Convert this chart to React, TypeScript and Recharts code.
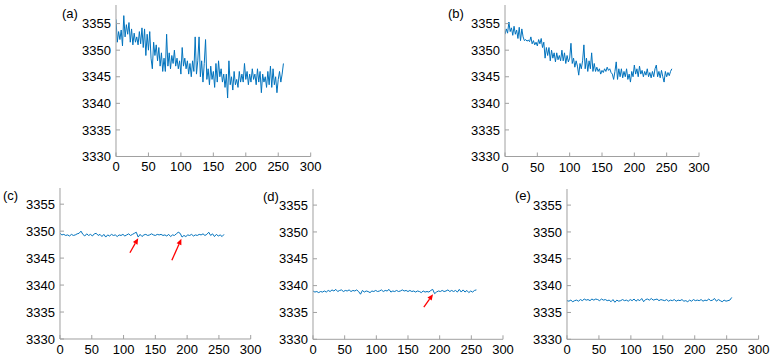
import React from 'react';
import { LineChart, Line, XAxis, YAxis, ReferenceLine } from 'recharts';

const xTicks = [0, 50, 100, 150, 200, 250, 300];
const yTicks = [3330, 3335, 3340, 3345, 3350, 3355];

// step 2 samples (x = 0..258)
const seriesA = [
  3355.8, 3351.5, 3353.5, 3352.0, 3353.8, 3350.8, 3356.5, 3352.5, 3354.8, 3353.0,
  3355.2, 3351.5, 3354.0, 3351.0, 3353.2, 3351.5, 3352.5, 3351.0, 3353.5, 3351.2,
  3354.2, 3350.5, 3354.0, 3349.0, 3353.0, 3350.0, 3353.5, 3348.5, 3346.5, 3351.5,
  3349.0, 3351.0, 3348.0, 3350.5, 3347.0, 3349.5, 3346.0, 3348.5, 3346.0, 3353.0,
  3347.0, 3349.5, 3346.5, 3349.0, 3347.5, 3350.0, 3347.0, 3348.5, 3346.5, 3348.0,
  3345.5, 3350.5, 3347.0, 3348.5, 3346.5, 3348.0, 3345.5, 3347.5, 3345.0, 3348.0,
  3346.0, 3352.5, 3345.5, 3348.0, 3352.5, 3345.0, 3348.0, 3344.0, 3347.5, 3352.0,
  3344.5, 3346.5, 3343.5, 3347.0, 3344.5, 3346.0, 3343.0, 3347.5, 3344.0, 3348.0,
  3345.0, 3346.5, 3344.0, 3345.5, 3343.0, 3345.5, 3341.0, 3348.0, 3343.5, 3345.0,
  3342.5, 3346.0, 3343.5, 3344.5, 3343.0, 3346.0, 3344.0, 3345.5, 3344.0, 3347.5,
  3344.5, 3346.0, 3343.5, 3345.5, 3344.0, 3346.5, 3344.5, 3345.5, 3343.5, 3346.5,
  3344.0, 3346.0, 3342.0, 3345.5, 3344.0, 3345.0, 3343.0, 3346.0, 3343.5, 3347.0,
  3343.0, 3346.5, 3343.5, 3345.0, 3342.0, 3344.5, 3346.0, 3344.0, 3345.5, 3347.5,
];

const seriesB = [
  3353.0, 3354.0, 3353.2, 3355.3, 3353.5, 3354.2, 3352.8, 3354.5, 3353.0, 3353.8,
  3352.2, 3354.3, 3351.8, 3354.0, 3352.5, 3351.8, 3352.0, 3351.7, 3351.9, 3351.6,
  3352.5, 3351.2, 3351.8, 3351.0, 3351.5, 3350.8, 3352.0, 3351.2, 3352.2, 3350.5,
  3351.5, 3348.5, 3350.5, 3349.0, 3350.5, 3348.0, 3350.0, 3348.5, 3349.5, 3347.8,
  3349.5, 3348.2, 3349.0, 3348.0, 3350.0, 3348.0, 3349.5, 3347.5, 3349.0, 3347.8,
  3348.5, 3351.3, 3347.5, 3348.5, 3346.8, 3348.0, 3347.0, 3345.3, 3347.5, 3346.5,
  3348.0, 3351.0, 3346.5, 3348.5, 3346.0, 3348.0, 3346.5, 3349.5, 3346.0, 3347.5,
  3346.0, 3346.8, 3346.0, 3346.5, 3345.5, 3346.2, 3345.8, 3346.5, 3346.0, 3346.8,
  3346.2, 3346.5, 3345.8, 3345.5, 3344.5, 3346.0, 3347.8, 3344.5, 3346.5, 3345.0,
  3346.5, 3344.8, 3346.0, 3345.0, 3346.5, 3344.5, 3345.5, 3344.0, 3346.0, 3345.0,
  3347.2, 3345.5, 3346.5, 3345.0, 3347.0, 3345.5, 3346.2, 3345.0, 3346.0, 3345.3,
  3346.5, 3345.0, 3345.8, 3344.8, 3346.0, 3345.0, 3346.5, 3347.2, 3345.0, 3346.0,
  3344.8, 3346.2, 3345.0, 3344.0, 3346.0, 3345.0, 3345.8, 3345.2, 3346.0, 3346.5,
];

// step 3 samples (x = 0..258)
const seriesC = [
  3349.6, 3349.3, 3349.4, 3349.2, 3349.3, 3349.1, 3349.4, 3349.2, 3349.3, 3349.5,
  3349.6, 3350.0, 3349.4, 3349.1, 3349.5, 3349.2, 3349.4, 3349.1, 3349.5, 3349.6,
  3349.2, 3349.4, 3349.0, 3349.4, 3348.9, 3349.3, 3349.1, 3349.4, 3349.2, 3349.3,
  3349.0, 3349.3, 3349.2, 3349.4, 3349.1, 3349.3, 3349.5, 3349.2, 3349.4, 3349.6,
  3349.8, 3348.9, 3349.4, 3349.0, 3349.3, 3349.4, 3349.2, 3349.3, 3349.5, 3349.3,
  3349.2, 3349.4, 3349.3, 3349.4, 3349.2, 3349.3, 3349.1, 3349.4, 3349.0, 3349.3,
  3349.2, 3349.5, 3349.8, 3349.6, 3348.9, 3349.2, 3349.0, 3349.3, 3349.2, 3349.4,
  3349.1, 3349.3, 3349.2, 3349.4, 3349.3, 3349.5, 3349.2, 3349.4, 3349.8, 3349.2,
  3349.5, 3349.0, 3349.4, 3349.1, 3349.3, 3349.0, 3349.4,
];

const seriesD = [
  3339.0, 3338.8, 3338.9, 3338.7, 3338.9, 3338.8, 3339.0, 3338.8, 3339.1, 3338.9,
  3339.2, 3339.0, 3339.3, 3338.9, 3339.1, 3339.2, 3338.9, 3339.1, 3339.0, 3339.2,
  3338.9, 3339.1, 3339.0, 3339.2, 3338.9, 3338.4, 3339.1, 3338.8, 3339.0, 3338.9,
  3338.7, 3339.0, 3338.9, 3339.1, 3338.9, 3339.0, 3339.2, 3338.9, 3339.1, 3339.0,
  3339.3, 3338.8, 3339.0, 3338.9, 3339.1, 3338.9, 3339.0, 3339.2, 3339.0, 3339.1,
  3338.9, 3339.1, 3338.9, 3339.0, 3338.8, 3339.0, 3338.9, 3338.7, 3339.0, 3338.8,
  3338.9, 3338.8, 3339.1, 3339.3, 3338.5, 3338.8, 3339.0, 3338.9, 3339.1, 3338.9,
  3339.0, 3339.2, 3338.9, 3339.1, 3338.9, 3339.1, 3338.8, 3339.3, 3338.8, 3339.2,
  3338.8, 3339.1, 3338.7, 3339.0, 3338.8, 3339.1, 3339.2,
];

const seriesE = [
  3337.2, 3337.1, 3337.3, 3337.0, 3337.2, 3337.3, 3337.1, 3337.4, 3337.2, 3337.5,
  3337.3, 3337.4, 3337.2, 3337.5, 3337.3, 3337.5, 3337.4, 3337.2, 3337.5, 3337.3,
  3337.4, 3337.2, 3337.3, 3337.0, 3337.4, 3336.9, 3337.3, 3337.1, 3337.2, 3337.4,
  3337.2, 3337.3, 3337.1, 3337.4, 3337.2, 3337.5, 3337.1, 3337.4, 3337.2, 3337.6,
  3337.0, 3337.4, 3337.5, 3337.3, 3337.6, 3337.3, 3337.4, 3337.5, 3337.2, 3337.4,
  3337.3, 3337.2, 3337.4, 3337.1, 3337.3, 3337.2, 3337.4, 3337.1, 3337.3, 3337.2,
  3337.4, 3337.1, 3337.2, 3337.0, 3337.3, 3337.1, 3337.4, 3337.2, 3337.3, 3337.2,
  3337.4, 3337.1, 3337.3, 3337.2, 3337.5, 3337.2, 3337.3, 3337.6, 3337.1, 3337.4,
  3337.2, 3337.0, 3337.3, 3337.1, 3337.2, 3337.3, 3337.8,
];

// red arrow annotations (data coordinates: tail -> head)
const arrowsC = [
  { x1: 110, y1: 3346.0, x2: 123, y2: 3348.7 },
  { x1: 176, y1: 3344.6, x2: 191, y2: 3348.6 },
];
const arrowsD = [{ x1: 175, y1: 3336.0, x2: 189.5, y2: 3338.4 }];
const noArrows: { x1: number; y1: number; x2: number; y2: number }[] = [];

const FONT = '"Liberation Sans", Arial, Helvetica, sans-serif';
const BOX = '#a0a0a0';
const LINE = '#0072BD';
const FS = 13;

const toRows = (vals: number[], step: number) => vals.map((v, i) => ({ x: i * step, y: v }));

const LeftTick = (p: any) => (
  <g>
    <text x={p.x - 5} y={p.y} dy={4.6} textAnchor="end" fontSize={FS} fontFamily={FONT} fill="#000">
      {p.payload.value}
    </text>
    <line x1={p.x} x2={p.x + 4} y1={p.y} y2={p.y} stroke={BOX} />
  </g>
);
const RightTick = (p: any) => <line x1={p.x} x2={p.x - 4} y1={p.y} y2={p.y} stroke={BOX} />;
const TopTick = (p: any) => <line x1={p.x} x2={p.x} y1={p.y} y2={p.y + 4} stroke={BOX} />;
const BottomTick = (p: any) => (
  <g>
    <text x={p.x} y={p.y + 15} textAnchor="middle" fontSize={FS} fontFamily={FONT} fill="#000">
      {p.payload.value}
    </text>
    <line x1={p.x} x2={p.x} y1={p.y} y2={p.y - 4} stroke={BOX} />
  </g>
);

const ArrowShape = (p: any) => {
  const { x1, y1, x2, y2 } = p;
  if ([x1, y1, x2, y2].some((v) => typeof v !== 'number')) return <g />;
  const a = Math.atan2(y2 - y1, x2 - x1);
  const L = 6;
  const W = 2.6;
  const bx = x2 - L * Math.cos(a);
  const by = y2 - L * Math.sin(a);
  const px = -Math.sin(a) * W;
  const py = Math.cos(a) * W;
  return (
    <g>
      <line x1={x1} y1={y1} x2={bx} y2={by} stroke="#ff0000" strokeWidth={1.3} />
      <polygon points={`${x2},${y2} ${bx + px},${by + py} ${bx - px},${by - py}`} fill="#ff0000" />
    </g>
  );
};

type Rect = { left: number; top: number; right: number; bottom: number };

const Panel = ({
  rect,
  data,
  yMax,
  arrows,
}: {
  rect: Rect;
  data: { x: number; y: number }[];
  yMax: number;
  arrows: { x1: number; y1: number; x2: number; y2: number }[];
}) => {
  const YW = 40;
  const MT = 10;
  const MR = 20;
  const XH = 25;
  const pw = rect.right - rect.left;
  const ph = rect.bottom - rect.top;
  return (
    <div style={{ position: 'absolute', left: rect.left - YW, top: rect.top - MT }}>
      <LineChart
        width={pw + YW + MR}
        height={ph + MT + XH}
        data={data}
        margin={{ top: MT, right: MR, left: 0, bottom: 0 }}
      >
        <XAxis
          dataKey="x"
          type="number"
          domain={[0, 300]}
          ticks={xTicks}
          interval={0}
          height={XH}
          tickSize={0}
          tickMargin={0}
          tickLine={false}
          axisLine={{ stroke: BOX }}
          tick={BottomTick}
          allowDataOverflow
        />
        <XAxis
          xAxisId="top"
          orientation="top"
          dataKey="x"
          type="number"
          domain={[0, 300]}
          ticks={xTicks}
          interval={0}
          height={0}
          tickSize={0}
          tickMargin={0}
          tickLine={false}
          axisLine={{ stroke: BOX }}
          tick={TopTick}
          allowDataOverflow
        />
        <YAxis
          type="number"
          domain={[3330, yMax]}
          ticks={yTicks}
          interval={0}
          width={YW}
          tickSize={0}
          tickMargin={0}
          tickLine={false}
          axisLine={{ stroke: BOX }}
          tick={LeftTick}
          allowDataOverflow
        />
        <YAxis
          yAxisId="right"
          orientation="right"
          type="number"
          domain={[3330, yMax]}
          ticks={yTicks}
          interval={0}
          width={0}
          tickSize={0}
          tickMargin={0}
          tickLine={false}
          axisLine={{ stroke: BOX }}
          tick={RightTick}
          allowDataOverflow
        />
        <Line
          dataKey="y"
          stroke={LINE}
          strokeWidth={1}
          dot={false}
          activeDot={false}
          isAnimationActive={false}
        />
        {arrows.map((a, i) => (
          <ReferenceLine
            key={i}
            segment={[
              { x: a.x1, y: a.y1 },
              { x: a.x2, y: a.y2 },
            ]}
            ifOverflow="visible"
            shape={ArrowShape}
          />
        ))}
      </LineChart>
    </div>
  );
};

const labelStyle = (left: number, top: number): React.CSSProperties => ({
  position: 'absolute',
  left,
  top,
  fontFamily: FONT,
  fontSize: FS,
  lineHeight: '15px',
  color: '#000',
});

export default function App() {
  return (
    <div
      style={{
        position: 'absolute',
        left: 0,
        top: 0,
        width: 770,
        height: 361,
        background: '#fff',
        overflow: 'hidden',
      }}
    >
      <Panel rect={{ left: 116, top: 4.5, right: 310.7, bottom: 156 }} data={toRows(seriesA, 2)} yMax={3358.5} arrows={noArrows} />
      <Panel rect={{ left: 505, top: 4.5, right: 699, bottom: 156 }} data={toRows(seriesB, 2)} yMax={3358.5} arrows={noArrows} />
      <Panel rect={{ left: 60, top: 188.3, right: 250.7, bottom: 339.3 }} data={toRows(seriesC, 3)} yMax={3358} arrows={arrowsC} />
      <Panel rect={{ left: 313.3, top: 189, right: 503.3, bottom: 339.3 }} data={toRows(seriesD, 3)} yMax={3358} arrows={arrowsD} />
      <Panel rect={{ left: 566.7, top: 189, right: 758.3, bottom: 339.3 }} data={toRows(seriesE, 3)} yMax={3358} arrows={noArrows} />
      <div style={labelStyle(62, 6)}>(a)</div>
      <div style={labelStyle(448, 6)}>(b)</div>
      <div style={labelStyle(3, 188)}>(c)</div>
      <div style={labelStyle(263, 189)}>(d)</div>
      <div style={labelStyle(515, 188)}>(e)</div>
    </div>
  );
}
